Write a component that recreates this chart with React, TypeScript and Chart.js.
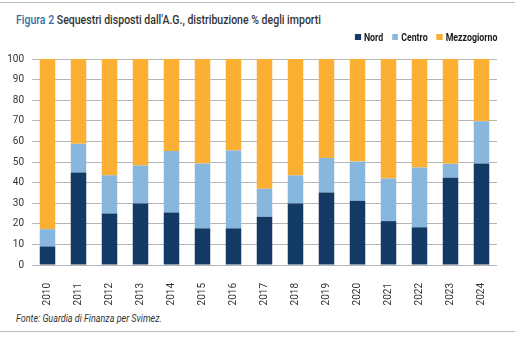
import React, { useEffect, useRef } from "react";
import { Chart, registerables } from "chart.js";
Chart.register(...registerables);

const years = ["2010","2011","2012","2013","2014","2015","2016","2017","2018","2019","2020","2021","2022","2023","2024"];
const nord = [9.0, 44.9, 25.0, 29.9, 25.5, 17.8, 17.8, 23.4, 29.9, 35.2, 31.2, 21.3, 18.3, 42.3, 49.3];
const centro = [8.4, 13.9, 18.5, 18.4, 29.9, 31.5, 37.8, 13.6, 13.6, 16.8, 19.0, 20.7, 29.0, 6.8, 20.5];
const mezzogiorno = [82.6, 41.2, 56.5, 51.7, 44.6, 50.7, 44.4, 63.0, 56.5, 48.0, 49.8, 58.0, 52.7, 50.9, 30.2];
const yTicks = [0, 10, 20, 30, 40, 50, 60, 70, 80, 90, 100];
const seriesNames = ["Nord", "Centro", "Mezzogiorno"];
const seriesColors = ["#133a65", "#88b7dd", "#fbb034"];

const FONT = "Roboto, 'Liberation Sans', sans-serif";

export default function App() {
  const ref = useRef<HTMLCanvasElement>(null);
  useEffect(() => {
    document.body.style.margin = "0";
    const values = [nord, centro, mezzogiorno];
    const chart = new Chart(ref.current!, {
      type: "bar",
      data: {
        labels: years,
        datasets: seriesNames.map((name, i) => ({
          label: name,
          data: values[i],
          backgroundColor: seriesColors[i],
        })),
      },
      options: {
        animation: false,
        responsive: false,
        maintainAspectRatio: false,
        layout: { padding: { left: 0, right: 18, top: 59, bottom: 0 } },
        datasets: { bar: { barPercentage: 0.5, categoryPercentage: 1 } },
        plugins: {
          legend: { display: false },
          tooltip: { enabled: false },
        },
        scales: {
          x: {
            stacked: true,
            afterFit: (axis: any) => {
              axis.height = 45;
            },
            grid: { display: false },
            border: { display: false },
            ticks: {
              minRotation: 90,
              maxRotation: 90,
              color: "#333",
              font: { family: FONT, size: 10 },
              padding: 10,
            },
          },
          y: {
            stacked: true,
            min: 0,
            max: 100,
            afterFit: (axis: any) => {
              axis.width = 32;
            },
            afterBuildTicks: (axis: any) => {
              axis.ticks = yTicks.map((v) => ({ value: v }));
            },
            grid: { color: "#b5b5b5", lineWidth: 1, drawTicks: false },
            border: { display: false },
            ticks: {
              color: "#333",
              font: { family: FONT, size: 10 },
              padding: 8,
            },
          },
        },
      },
    });
    return () => chart.destroy();
  }, []);

  return (
    <div style={{ position: "relative", width: 515, height: 339, background: "#fff", overflow: "hidden" }}>
      <div style={{ position: "absolute", left: 0, top: 2, width: 515, height: 1, background: "#bbb" }} />
      <div
        style={{
          position: "absolute",
          left: 16,
          top: 12,
          fontFamily: FONT,
          fontSize: 13,
          fontWeight: 500,
          color: "#333",
          whiteSpace: "nowrap",
          transform: "scaleX(0.81)",
          transformOrigin: "left top",
        }}
      >
        <span style={{ color: "#2f6fa5" }}>Figura 2</span> Sequestri disposti dall'A.G., distribuzione % degli importi
      </div>
      <canvas ref={ref} width={515} height={310} style={{ position: "absolute", left: 0, top: 0, width: 515, height: 310 }} />
      <div
        style={{
          position: "absolute",
          right: 18,
          top: 30,
          height: 14,
          display: "flex",
          alignItems: "center",
          fontFamily: FONT,
          fontSize: 11,
          fontWeight: "bold",
          color: "#1a1a1a",
          whiteSpace: "nowrap",
          transform: "scaleX(0.8)",
          transformOrigin: "right center",
        }}
      >
        {seriesNames.map((name, i) => (
          <div key={name} style={{ display: "flex", alignItems: "center", marginLeft: i === 0 ? 0 : 11 }}>
            <span style={{ display: "inline-block", width: 7.5, height: 6, background: seriesColors[i], marginRight: 4 }} />
            <span>{name}</span>
          </div>
        ))}
      </div>
      <div
        style={{
          position: "absolute",
          left: 16,
          top: 313,
          fontFamily: FONT,
          fontSize: 10,
          fontStyle: "italic",
          color: "#333",
          whiteSpace: "nowrap",
          transform: "scaleX(0.9)",
          transformOrigin: "left top",
        }}
      >
        Fonte: Guardia di Finanza per Svimez.
      </div>
      <div style={{ position: "absolute", left: 0, top: 331, width: 515, height: 1, background: "#bbb" }} />
    </div>
  );
}
